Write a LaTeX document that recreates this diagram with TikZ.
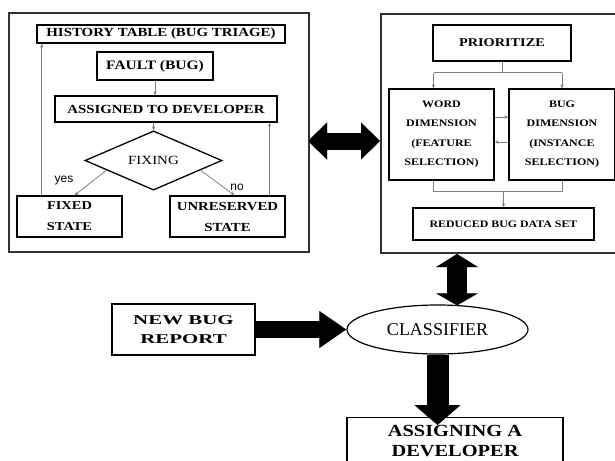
\documentclass[tikz,border=0pt]{standalone}
\usepackage{fontspec}
\setmainfont[FakeStretch=1.2]{Liberation Serif}
\newfontfamily\plainfont{Liberation Serif}
\newfontfamily\widefont[FakeStretch=1.55]{Liberation Serif}
\newfontfamily\labfont{Liberation Sans}
\usetikzlibrary{shapes.geometric,arrows.meta,calc}
\begin{document}
\begin{tikzpicture}[x=1pt,y=-1pt,
  panel/.style={draw=black!80, line width=2pt, inner sep=0pt},
  box/.style={draw=black, line width=1.3pt, fill=white, inner sep=0pt, align=center},
  conn/.style={draw=black!50, line width=0.8pt, -{Stealth[length=4pt,width=3.5pt]}},
  plainline/.style={draw=black!50, line width=0.8pt},
  shadowarr/.style={draw=black!45, shift={(2,2)}},
  blackarr/.style={draw=black}
]
\useasboundingbox (0,0) rectangle (615,460);
\clip (0,0) rectangle (615,460);
\fill[white] (0,0) rectangle (615,460);

% panels
\node[panel, minimum width=300pt, minimum height=239pt, anchor=north west] (lpanel) at (8,12) {};
\node[panel, minimum width=260pt, minimum height=239pt, anchor=north west] (rpanel) at (380,13) {};

% left panel
\node[box, minimum width=248pt, minimum height=18pt, font=\bfseries\fontsize{12.4}{14}\selectfont] (hist) at (161,34) {HISTORY TABLE (BUG TRIAGE)};
\node[box, minimum width=116pt, minimum height=28pt, font=\bfseries\fontsize{12.9}{14}\selectfont] (fault) at (155,66) {FAULT (BUG)};
\node[box, minimum width=222pt, minimum height=26pt, font=\bfseries\fontsize{12.4}{14}\selectfont] (assigned) at (166,109) {ASSIGNED TO DEVELOPER};
\node[draw, diamond, line width=1.3pt, fill=white, minimum width=137pt, minimum height=51pt, inner sep=0pt, font=\fontsize{12.5}{14}\selectfont] (fix) at (153.5,160.5) {FIXING};
\node[box, minimum width=105pt, minimum height=41pt, font=\bfseries\fontsize{12}{21}\selectfont] (fixed) at (69.5,216.5) {FIXED\\STATE};
\node[box, minimum width=115pt, minimum height=41pt, font=\bfseries\fontsize{12.3}{21}\selectfont] (unres) at (227.5,216.5) {UNRESERVED\\STATE};
\node[font=\labfont\fontsize{12}{14}\selectfont] (yes) at (64,181) {yes};
\node[font=\labfont\fontsize{12}{14}\selectfont] (no) at (237,187) {no};

\draw[conn] (fault.south) -- (fault.south |- assigned.north);
\draw[conn] (fix.north |- assigned.south) -- (fix.north);
\draw[conn] ($(fix.west)!0.32!(fix.south)$) -- ($(fixed.north)+(5,0)$);
\draw[conn] ($(fix.east)!0.32!(fix.south)$) -- ($(unres.north)+(7,0)$);
\coordinate (fl) at ($(fixed.north west)+(25.5,0)$);
\draw[conn] (fl) -- (fl |- hist.south);
\coordinate (ul) at ($(unres.north east)+(-16,0)$);
\draw[conn] (ul) -- (ul |- assigned.south);

% right panel
\node[box, minimum width=138pt, minimum height=36pt, font=\bfseries\fontsize{11.9}{14}\selectfont] (prio) at (502,43) {PRIORITIZE};
\node[box, minimum width=105pt, minimum height=91pt, font=\bfseries\fontsize{10}{19.5}\selectfont] (word) at (441.5,134.5) {WORD\\DIMENSION\\(FEATURE\\SELECTION)};
\node[box, minimum width=106pt, minimum height=91pt, font=\bfseries\fontsize{10}{19.5}\selectfont] (bug) at (562,134.5) {BUG\\DIMENSION\\(INSTANCE\\SELECTION)};
\node[box, minimum width=181pt, minimum height=32pt, font=\bfseries\fontsize{9.9}{12}\selectfont] (reduced) at (503.5,224) {REDUCED BUG DATA SET};

\coordinate (ps) at ($(prio.south)+(0,11)$);
\coordinate (wl) at ($(word.north)+(-8,0)$);
\draw[plainline] (prio.south) -- (ps);
\draw[plainline] (ps -| wl) -- (ps -| bug.north);
\draw[conn] (ps -| wl) -- (wl);
\draw[conn] (ps -| bug.north) -- (bug.north);
\draw[conn] ($(word.east)+(0,-17.5)$) -- ($(bug.west)+(0,-17.5)$);
\draw[conn] ($(bug.west)+(0,7.5)$) -- ($(word.east)+(0,7.5)$);
\coordinate (pb) at ($(word.south)+(0,11)$);
\draw[plainline] (wl |- word.south) -- (wl |- pb) -- (bug.south |- pb) -- (bug.south);
\draw[conn] (reduced.north |- pb) -- (reduced.north);

% lower part
\node[draw, ellipse, line width=1.2pt, fill=white, minimum width=181pt, minimum height=49pt, inner sep=0pt, font=\plainfont\fontsize{18}{20}\selectfont] (classifier) at (437.5,329.5) {CLASSIFIER};
\node[box, minimum width=143pt, minimum height=51pt, font=\widefont\bfseries\fontsize{13.5}{19}\selectfont] (newbug) at (183.5,329.5) {NEW BUG\\REPORT};
\node[box, minimum width=216pt, minimum height=46pt, anchor=north, font=\bfseries\fontsize{17}{20}\selectfont] (assign) at (455,417) {ASSIGNING A\\DEVELOPER};

% big arrows
\coordinate (h1) at ($(lpanel.east)+(-2,8.5)$);
\coordinate (h2) at ($(rpanel.west)+(0,7.5)$);
\coordinate (v1) at ($(rpanel.south west)+(77,0)$);
\coordinate (v2) at ($(classifier.north)+(19.5,1)$);
\coordinate (c2) at (classifier.south |- assign.north);
\coordinate (c3) at ($(c2)+(0,8)$);
\foreach \st in {shadowarr,blackarr}{
  \draw[\st, line width=17pt, {Triangle[length=19pt,width=36pt]}-{Triangle[length=19pt,width=36pt]}] (h1) -- (h2);
  \draw[\st, line width=20pt, {Triangle[length=13pt,width=41pt]}-{Triangle[length=12pt,width=41pt]}] (v1) -- (v2);
  \draw[\st, line width=17pt, -{Triangle[length=27pt,width=35pt]}] (newbug.east) -- (classifier.west);
  \draw[\st, line width=22pt, -{Triangle[length=20pt,width=45pt]}] (classifier.south) -- (c3);
}
\end{tikzpicture}
\end{document}
